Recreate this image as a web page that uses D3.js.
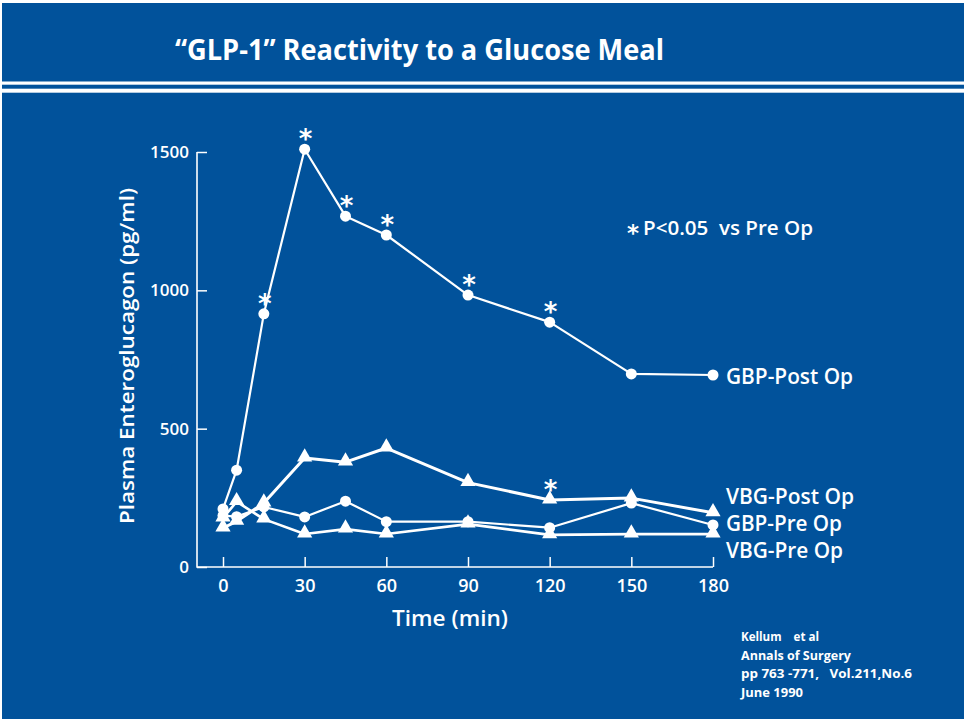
<!DOCTYPE html>
<html><head><meta charset="utf-8">
<script src="https://cdn.jsdelivr.net/npm/d3@7"></script>
<style>html,body{margin:0;padding:0;background:#fff;} svg{display:block} text{white-space:pre}</style>
</head><body>
<svg id="chart" width="964" height="719"></svg>
<script>
// ---- data ----
const times    = [0, 5, 15, 30, 45, 60, 90, 120, 150, 180];
const gbpPost  = [210, 350, 915, 1510, 1268, 1200, 983, 885, 698, 694];
const vbgPost  = [141, 165, 231, 394, 379, 430, 305, 242, 249, 196];
const gbpPre   = [186, 182, 217, 181, 238, 164, 164, 142, 231, 152];
const vbgPre   = [177, 236, 173, 119, 137, 119, 155, 116, 119, 119];
const seriesNames = ["GBP-Post Op", "VBG-Post Op", "GBP-Pre Op", "VBG-Pre Op"];
const sigGbpPost = [15, 30, 45, 60, 90, 120];
const sigVbgPost = [120];
const xTicks = [0, 30, 60, 90, 120, 150, 180];
const yTicks = [0, 500, 1000, 1500];
const titleText = "\u201CGLP-1\u201D Reactivity to a Glucose Meal";
const xTitle = "Time (min)";
const yTitle = "Plasma Enteroglucagon (pg/ml)";
const legendText = "P<0.05  vs Pre Op";
const citation = ["Kellum    et al", "Annals of Surgery", "pp 763 -771,   Vol.211,No.6", "June 1990"];

// ---- layout ----
const BLUE = "#01529b";
const FONT = "'Open Sans', 'Noto Sans', sans-serif";
const svg = d3.select("#chart");

svg.append("rect").attr("x", 2).attr("y", 3).attr("width", 962).attr("height", 716).attr("fill", BLUE);
svg.append("rect").attr("x", 0).attr("y", 81.5).attr("width", 964).attr("height", 3.2).attr("fill", "#fff");
svg.append("rect").attr("x", 0).attr("y", 88.7).attr("width", 964).attr("height", 4).attr("fill", "#fff");

svg.append("text").text(titleText)
  .attr("x", 175).attr("y", 60)
  .attr("textLength", 489).attr("lengthAdjust", "spacingAndGlyphs")
  .attr("font-family", FONT).attr("font-weight", 700).attr("font-size", 29).attr("fill", "#fff");

const x = d3.scaleLinear().domain([0, 180]).range([223, 713]);
const y = d3.scaleLinear().domain([0, 1500]).range([567, 152]);
const axisX = 197;

// axes
const gx = svg.append("g").attr("transform", `translate(0,${y(0)})`)
  .call(d3.axisBottom(x).tickValues(xTicks).tickFormat(d3.format("d")).tickSize(-10).tickPadding(12));
const gy = svg.append("g").attr("transform", `translate(${axisX},0)`)
  .call(d3.axisLeft(y).tickValues(yTicks).tickFormat(d3.format("d")).tickSize(-10).tickPadding(8));
[gx, gy].forEach(g => {
  g.select(".domain").remove();
  g.selectAll(".tick line").attr("stroke", "#fff").attr("stroke-width", 1.5);
  g.selectAll(".tick text").attr("fill", "#fff").attr("font-family", FONT).attr("font-weight", 600);
});
gx.selectAll(".tick text").attr("font-size", 18);
gy.selectAll(".tick text").attr("font-size", 17);

svg.append("path")
  .attr("d", `M${axisX},${y(1500)}V${y(0)}H${x(180)}`)
  .attr("fill", "none").attr("stroke", "#fff").attr("stroke-width", 1.6);

// axis titles
svg.append("text").text(xTitle)
  .attr("x", 450).attr("y", 626).attr("text-anchor", "middle")
  .attr("textLength", 116).attr("lengthAdjust", "spacingAndGlyphs")
  .attr("font-family", FONT).attr("font-weight", 600).attr("font-size", 21).attr("fill", "#fff");
svg.append("text").text(yTitle)
  .attr("transform", "translate(134,356) rotate(-90)").attr("text-anchor", "middle")
  .attr("textLength", 336).attr("lengthAdjust", "spacingAndGlyphs")
  .attr("font-family", FONT).attr("font-weight", 600).attr("font-size", 20).attr("fill", "#fff");

// series
const series = [
  {name: seriesNames[0], values: gbpPost, marker: "circle",   sw: 2.2, lx: 726, ly: 384, lw: 127},
  {name: seriesNames[1], values: vbgPost, marker: "triangle", sw: 3,   lx: 726, ly: 504, lw: 128},
  {name: seriesNames[2], values: gbpPre,  marker: "circle",   sw: 2.2, lx: 726, ly: 531, lw: 116},
  {name: seriesNames[3], values: vbgPre,  marker: "triangle", sw: 2.6, lx: 726, ly: 558, lw: 117}
];
const line = d3.line().x(d => x(d.t)).y(d => y(d.v));
const tri = d3.symbol(d3.symbolTriangle, 100);

series.forEach(s => {
  const pts = times.map((t, i) => ({t, v: s.values[i]}));
  svg.append("path").datum(pts).attr("d", line)
    .attr("fill", "none").attr("stroke", "#fff").attr("stroke-width", s.sw).attr("stroke-linejoin", "round");
  s.pts = pts;
});
series.forEach(s => {
  const g = svg.append("g");
  if (s.marker === "circle") {
    g.selectAll("circle").data(s.pts).join("circle")
      .attr("cx", d => x(d.t)).attr("cy", d => y(d.v)).attr("r", 5.5).attr("fill", "#fff");
  } else {
    g.selectAll("path").data(s.pts).join("path")
      .attr("d", tri).attr("transform", d => `translate(${x(d.t)},${y(d.v) - 1})`).attr("fill", "#fff");
  }
  svg.append("text").text(s.name)
    .attr("x", s.lx).attr("y", s.ly)
    .attr("textLength", s.lw).attr("lengthAdjust", "spacingAndGlyphs")
    .attr("font-family", FONT).attr("font-weight", 600).attr("font-size", 21).attr("fill", "#fff");
});

// significance asterisks
const sig = [
  ...sigGbpPost.map(t => ({t, v: gbpPost[times.indexOf(t)]})),
  ...sigVbgPost.map(t => ({t, v: vbgPost[times.indexOf(t)]}))
];
svg.append("g").selectAll("text").data(sig).join("text")
  .text("*")
  .attr("x", d => x(d.t) + 1).attr("y", d => y(d.v) - 1)
  .attr("text-anchor", "middle")
  .attr("font-family", "'DejaVu Sans', sans-serif").attr("font-weight", 700)
  .attr("font-size", 26).attr("fill", "#fff");

// legend note
svg.append("text").text("*")
  .attr("x", 633).attr("y", 241).attr("text-anchor", "middle")
  .attr("font-family", "'DejaVu Sans', sans-serif").attr("font-weight", 700)
  .attr("font-size", 23).attr("fill", "#fff");
svg.append("text").text(legendText)
  .attr("x", 643).attr("y", 235)
  .attr("textLength", 170).attr("lengthAdjust", "spacingAndGlyphs")
  .attr("font-family", FONT).attr("font-weight", 600).attr("font-size", 20).attr("fill", "#fff");

// citation
const citeW = [78, 110, 171, 62];
svg.append("g").selectAll("text").data(citation).join("text")
  .text(d => d)
  .attr("x", 741).attr("y", (d, i) => 641 + i * 18.6)
  .attr("textLength", (d, i) => citeW[i]).attr("lengthAdjust", "spacingAndGlyphs")
  .attr("font-family", FONT).attr("font-weight", 700).attr("font-size", 13).attr("fill", "#fff");
</script>
</body></html>
